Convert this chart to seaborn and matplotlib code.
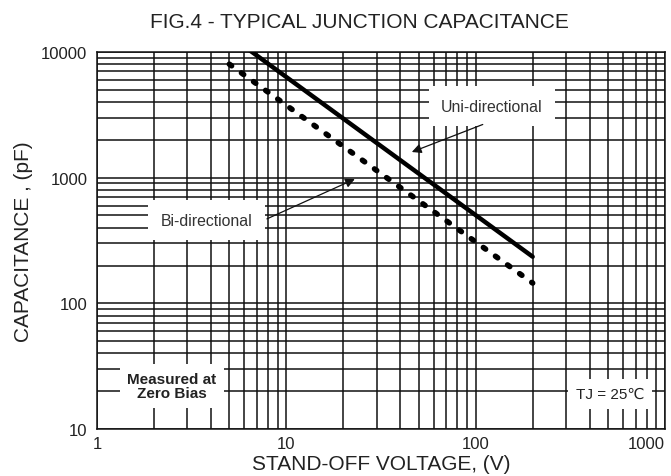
import matplotlib
matplotlib.use("Agg")
import matplotlib.pyplot as plt
from matplotlib.ticker import NullFormatter, LogLocator
import pandas as pd
import seaborn as sns

# Values (log-log, straight lines)
uni_voltage = [6.3, 200]
uni_capacitance = [10500, 235]
bi_voltage = [5, 200]
bi_capacitance = [8000, 145]

x_ticks = [1, 10, 100, 1000]
x_tick_labels = ["1", "10", "100", "1000"]
y_ticks = [10, 100, 1000, 10000]
y_tick_labels = ["10", "100", "1000", "10000"]

uni_df = pd.DataFrame({"voltage": uni_voltage, "capacitance": uni_capacitance})
bi_df = pd.DataFrame({"voltage": bi_voltage, "capacitance": bi_capacitance})

sns.set_style("white")
plt.rcParams["font.family"] = ["Liberation Sans", "DejaVu Sans"]
plt.rcParams["lines.dash_capstyle"] = "round"

fig = plt.figure(figsize=(6.71, 4.77), dpi=100)
ax = fig.add_axes([97 / 671, 1 - 430 / 477, (665 - 97) / 671, (430 - 53) / 477])

sns.lineplot(data=uni_df, x="voltage", y="capacitance", color="black",
             linewidth=3.2, ax=ax, zorder=5)
# dot pitch chosen so the dotted line ends on a dot
sns.lineplot(data=bi_df, x="voltage", y="capacitance", color="black",
             linewidth=4.0, linestyle=(0, (0.5, 2.185)), ax=ax, zorder=5)

ax.set_xscale("log")
ax.set_yscale("log")
ax.set_xlim(1, 1000)
ax.set_ylim(10, 10000)
ax.set_xticks(x_ticks, x_tick_labels)
ax.set_yticks(y_ticks, y_tick_labels)
ax.xaxis.set_minor_locator(LogLocator(base=10, subs=range(2, 10)))
ax.yaxis.set_minor_locator(LogLocator(base=10, subs=range(2, 10)))
ax.xaxis.set_minor_formatter(NullFormatter())
ax.yaxis.set_minor_formatter(NullFormatter())
ax.tick_params(which="both", length=0, labelsize=12, labelcolor="#222222")
ax.tick_params(axis="x", pad=5)
ax.tick_params(axis="y", pad=7)
ax.get_xticklabels()[-1].set_horizontalalignment("right")
ax.grid(True, which="both", color="#111111", linewidth=1.1)
ax.set_axisbelow(True)
for s in ax.spines.values():
    s.set_color("#111111")
    s.set_linewidth(1.1)

ax.set_xlabel("STAND-OFF VOLTAGE, (V)", fontsize=15, color="#222222", labelpad=2)
ax.set_ylabel("CAPACITANCE , (pF)", fontsize=15, color="#222222", labelpad=6)
fig.text(359 / 671, 1 - 22 / 477, "FIG.4 - TYPICAL JUNCTION CAPACITANCE",
         fontsize=15, color="#222222", ha="center", va="center")

box = dict(boxstyle="square,pad=0.8", facecolor="white", edgecolor="none")
ax.text(122, 3700, "Uni-directional", fontsize=11.4, color="#333333",
        ha="center", va="center", bbox=box, zorder=3)
ax.text(3.8, 460, "Bi-directional", fontsize=11.4, color="#333333",
        ha="center", va="center", bbox=box, zorder=3)
ax.text(2.49, 22, "Measured at\nZero Bias", fontsize=11, fontweight="bold",
        color="#222222", ha="center", va="center", linespacing=1.05,
        bbox=dict(boxstyle="square,pad=0.5", facecolor="white", edgecolor="none"), zorder=3)
ax.text(513, 19, "TJ = 25℃", fontsize=11, color="#222222",
        ha="center", va="center",
        bbox=dict(boxstyle="square,pad=0.5", facecolor="white", edgecolor="none"), zorder=3)

arrow = dict(arrowstyle="-|>", color="#111111", lw=0.9, mutation_scale=14, shrinkA=0, shrinkB=0)
ax.annotate("", xy=(46, 1600), xytext=(109, 2650), arrowprops=arrow, zorder=4)
ax.annotate("", xy=(23, 975), xytext=(7.9, 470), arrowprops=arrow, zorder=4)

fig.savefig("out.png", dpi=100)
plt.close(fig)
